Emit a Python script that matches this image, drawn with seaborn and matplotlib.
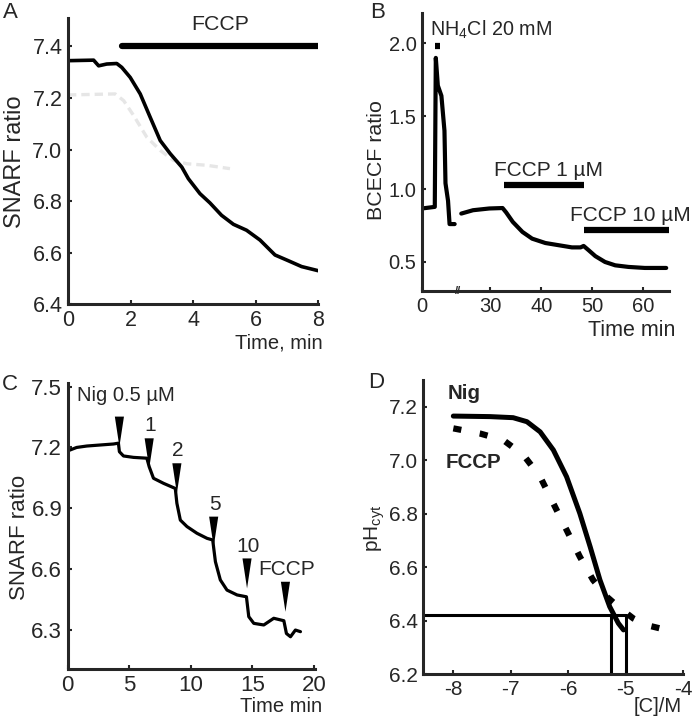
import matplotlib
matplotlib.use("Agg")
import matplotlib.pyplot as plt
import seaborn as sns

# Panel A: SNARF ratio vs time, FCCP
a_time = [0, 0.82, 0.98, 1.24, 1.56, 1.72, 1.99, 2.31, 2.63, 2.95, 3.27, 3.64, 3.85, 4.22,
          4.54, 4.91, 5.29, 5.71, 6.14, 6.62, 7.04, 7.47, 8.0]
a_ratio = [7.345, 7.347, 7.325, 7.332, 7.334, 7.319, 7.28, 7.216, 7.125, 7.035, 6.984, 6.932,
           6.887, 6.829, 6.793, 6.745, 6.71, 6.687, 6.649, 6.591, 6.569, 6.546, 6.53]
a_ctrl_time = [0, 1.51, 1.78, 2.1, 2.52, 2.95, 3.37, 3.8, 4.44, 5.18]
a_ctrl_ratio = [7.212, 7.216, 7.19, 7.132, 7.048, 6.997, 6.958, 6.945, 6.939, 6.926]
a_fccp = (1.72, 8.0)

# Panel B: BCECF ratio, broken time axis (first segment plotted from the "0" tick)
b_zero = 16.6
b_t1 = [0, 2.5, 2.7, 3.1, 3.8, 4.4, 4.6, 5.1, 5.4, 6.4]
b_r1 = [0.867, 0.878, 1.90, 1.71, 1.64, 1.40, 1.04, 0.92, 0.76, 0.76]
b_t2 = [24.3, 26.6, 29.8, 32.4, 33.1, 34.4, 36.3, 38.2, 40.8, 43.4, 46.0, 47.7, 48.3, 49.3,
        50.6, 52.5, 54.5, 57.1, 60.3, 64.5]
b_r2 = [0.832, 0.855, 0.867, 0.87, 0.84, 0.775, 0.706, 0.66, 0.63, 0.615, 0.60, 0.60, 0.61,
        0.58, 0.54, 0.50, 0.477, 0.466, 0.459, 0.459]
b_nh4 = (2.5, 3.5)
b_fccp1 = (32.6, 48.4)
b_fccp10 = (48.4, 65.3)

# Panel C: SNARF ratio with nigericin additions
c_time = [0, 0.73, 1.55, 2.63, 3.72, 4.12, 4.2, 4.53, 5.35, 6.43, 6.62, 6.97, 7.79, 8.74, 8.87,
          9.15, 9.69, 10.5, 11.32, 11.78, 12.0, 12.4, 12.94, 13.76, 14.52, 14.71, 15.12, 15.93,
          16.74, 17.56, 17.77, 18.1, 18.5, 18.91]
c_ratio = [7.183, 7.2, 7.207, 7.212, 7.217, 7.221, 7.179, 7.158, 7.151, 7.147, 7.105, 7.048,
           7.023, 6.998, 6.925, 6.842, 6.81, 6.777, 6.752, 6.744, 6.637, 6.547, 6.497, 6.473,
           6.464, 6.366, 6.333, 6.325, 6.358, 6.346, 6.283, 6.267, 6.3, 6.292]
c_add_time = [4.2, 6.62, 8.87, 11.86, 14.57, 17.69]
c_add_level = [7.278, 7.171, 7.048, 6.785, 6.579, 6.464]
c_add_labels = ["", "1", "2", "5", "10", "FCCP"]

# Panel D: pH_cyt vs log concentration
d_nig_x = [-8, -7.36, -6.96, -6.72, -6.49, -6.26, -6.03, -5.80, -5.62, -5.45, -5.28, -5.13, -5.04]
d_nig_y = [7.165, 7.163, 7.159, 7.144, 7.106, 7.038, 6.938, 6.801, 6.676, 6.552, 6.452, 6.39, 6.365]
d_fccp_x = [-8, -7.54, -7.13, -6.78, -6.49, -6.26, -6.03, -5.80, -5.57, -5.33, -5.10, -4.87,
            -4.64, -4.41]
d_fccp_y = [7.119, 7.1, 7.075, 7.019, 6.938, 6.838, 6.739, 6.639, 6.552, 6.489, 6.446, 6.408,
            6.383, 6.371]
d_ph_level = 6.42
d_ec50 = [-5.25, -5.0]

sns.set_style("ticks")
plt.rcParams['font.family'] = ['Liberation Sans', 'DejaVu Sans']
plt.rcParams['axes.linewidth'] = 2.2
plt.rcParams['axes.unicode_minus'] = False
plt.rcParams['mathtext.fontset'] = 'custom'
plt.rcParams['mathtext.rm'] = 'Liberation Sans'
plt.rcParams['mathtext.it'] = 'Liberation Sans'

fig = plt.figure(figsize=(6.93, 7.26), dpi=100)
axA = fig.add_axes([0.0981, 0.581, 0.361, 0.394])
axB = fig.add_axes([0.609, 0.599, 0.356, 0.3835])
axC = fig.add_axes([0.0977, 0.0785, 0.357, 0.3935])
axD = fig.add_axes([0.611, 0.0716, 0.375, 0.405])

for ax in (axA, axB, axC, axD):
    sns.despine(ax=ax)
    ax.tick_params(direction='in', length=3, width=1.5, pad=4)


def side_label(ax, x, y, text, size):
    ax.text(x, y, text, transform=ax.transAxes, rotation=90, ha='center', va='center',
            fontsize=size)


# ---- A ----
sns.lineplot(x=a_ctrl_time, y=a_ctrl_ratio, ax=axA, color='#e6e6e6', lw=2.4,
             linestyle=(0, (2.5, 1.5)), estimator=None)
sns.lineplot(x=a_time, y=a_ratio, ax=axA, color='black', lw=2.6, estimator=None)
axA.plot(a_fccp, [7.4, 7.4], color='black', lw=4.5, solid_capstyle='round')
axA.text(sum(a_fccp) / 2, 7.487, 'FCCP', ha='center', va='center', fontsize=15.3)
axA.set_xlim(0, 8)
axA.set_ylim(6.4, 7.51)
axA.set_xticks([0, 2, 4, 6, 8])
axA.set_yticks([6.4, 6.6, 6.8, 7.0, 7.2, 7.4])
axA.tick_params(labelsize=15.5)
side_label(axA, -0.212, 0.497, 'SNARF ratio', 17)
axA.text(1.016, -0.136, 'Time, min', transform=axA.transAxes, ha='right', va='center',
         fontsize=14.5)

# ---- B ----
sns.lineplot(x=[t + b_zero for t in b_t1], y=b_r1, ax=axB, color='black', lw=3, estimator=None,
             sort=False)
sns.lineplot(x=b_t2, y=b_r2, ax=axB, color='black', lw=3, estimator=None)
axB.plot([b_nh4[0] + b_zero, b_nh4[1] + b_zero], [1.98, 1.98], color='black', lw=4.5,
         solid_capstyle='butt')
axB.plot(b_fccp1, [1.03, 1.03], color='black', lw=4.5, solid_capstyle='butt')
axB.plot(b_fccp10, [0.722, 0.722], color='black', lw=4.5, solid_capstyle='butt')
axB.text(18.1, 2.09, 'NH$_4$Cl 20 mM', ha='left', va='center', fontsize=14.2)
axB.text(41.4, 1.13, 'FCCP 1 µM', ha='center', va='center', fontsize=15)
axB.text(45.7, 0.82, 'FCCP 10 µM', ha='left', va='center', fontsize=15)
axB.text(23.6, 0.30, '//', ha='center', va='center', fontsize=8, fontweight='bold')
axB.set_xlim(b_zero, 65)
axB.set_ylim(0.3, 2.21)
axB.set_xticks([b_zero, 30, 40, 50, 60])
axB.set_xticklabels(['0', '30', '40', '50', '60'])
axB.set_yticks([0.5, 1.0, 1.5, 2.0])
axB.tick_params(labelsize=14.5)
side_label(axB, -0.183, 0.47, 'BCECF ratio', 15.4)
axB.text(1.028, -0.14, 'Time min', transform=axB.transAxes, ha='right', va='center',
         fontsize=15.5)

# ---- C ----
sns.lineplot(x=c_time, y=c_ratio, ax=axC, color='black', lw=2.3, estimator=None, sort=False)
tri_half_w, tri_half_h = 0.37, 0.074
for x, lvl, lab in zip(c_add_time, c_add_level, c_add_labels):
    axC.fill([x - tri_half_w, x + tri_half_w, x],
             [lvl + tri_half_h, lvl + tri_half_h, lvl - tri_half_h],
             color='black', lw=0, zorder=3)
    if lab:
        axC.text(x + 0.1, lvl + 0.135, lab, ha='center', va='center', fontsize=15)
axC.text(0.73, 7.454, 'Nig 0.5 µM', ha='left', va='center', fontsize=14.5)
axC.set_xlim(0, 20.1)
axC.set_ylim(6.108, 7.516)
axC.set_xticks([0, 5, 10, 15, 20])
axC.set_yticks([6.3, 6.6, 6.9, 7.2, 7.5])
axC.tick_params(labelsize=16)
side_label(axC, -0.195, 0.459, 'SNARF ratio', 16)
axC.text(1.028, -0.132, 'Time min', transform=axC.transAxes, ha='right', va='center',
         fontsize=14.5)

# ---- D ----
sns.lineplot(x=d_nig_x, y=d_nig_y, ax=axD, color='black', lw=3.6, estimator=None)
sns.lineplot(x=d_fccp_x, y=d_fccp_y, ax=axD, color='black', lw=4.5,
             linestyle=(0, (1.3, 3)), estimator=None)
axD.axhline(d_ph_level, xmin=0, xmax=(d_ec50[1] + 8.52) / 4.52, color='black', lw=2.2)
for xv in d_ec50:
    axD.plot([xv, xv], [6.2, d_ph_level], color='black', lw=2.2)
axD.text(-8.1, 7.25, 'Nig', ha='left', va='center', fontsize=14.8, fontweight='bold')
axD.text(-8.13, 6.99, 'FCCP', ha='left', va='center', fontsize=14.8, fontweight='bold')
axD.set_xlim(-8.52, -4)
axD.set_ylim(6.2, 7.3)
axD.set_xticks([-8, -7, -6, -5, -4])
axD.set_yticks([6.2, 6.4, 6.6, 6.8, 7.0, 7.2])
axD.tick_params(labelsize=15)
side_label(axD, -0.187, 0.497, 'pH$_{cyt}$', 15)
axD.text(0.995, -0.111, '[C]/M', transform=axD.transAxes, ha='right', va='center',
         fontsize=14.5)

for ax in (axA, axB, axC, axD):
    ax.set_xlabel('')
    ax.set_ylabel('')

fig.text(10 / 693, 1 - 13 / 726, 'A', ha='center', va='center', fontsize=16)
fig.text(378 / 693, 1 - 12 / 726, 'B', ha='center', va='center', fontsize=16)
fig.text(10 / 693, 1 - 385 / 726, 'C', ha='center', va='center', fontsize=16)
fig.text(376 / 693, 1 - 382 / 726, 'D', ha='center', va='center', fontsize=16)

fig.savefig('out.png', dpi=100)
